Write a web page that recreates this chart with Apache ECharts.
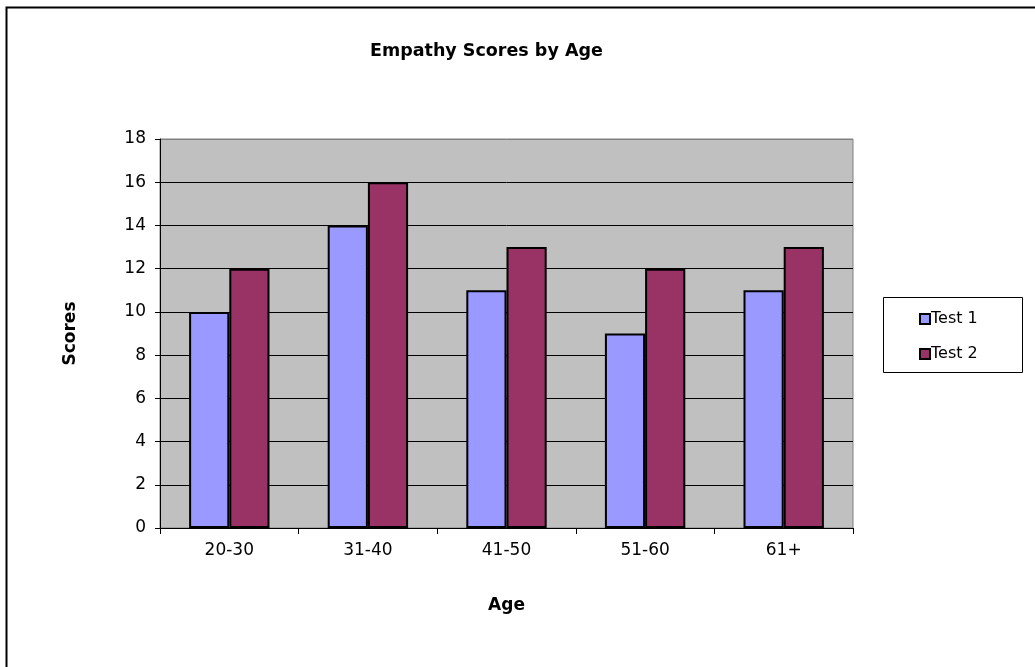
<!DOCTYPE html>
<html>
<head>
<meta charset="utf-8">
<script src="https://cdn.jsdelivr.net/npm/echarts@6/dist/echarts.min.js"></script>
<style>
  html, body { margin: 0; padding: 0; background: #fff; }
  #chart { width: 1035px; height: 667px; }
</style>
</head>
<body>
<div id="chart"></div>
<script>
// Age groups and the two test scores for each group
const ageGroups = ['20-30', '31-40', '41-50', '51-60', '61+'];
const test1Scores = [10, 14, 11, 9, 11];
const test2Scores = [12, 16, 13, 12, 13];
const seriesNames = ['Test 1', 'Test 2'];

const FONT = 'DejaVu Sans, Verdana, sans-serif';

// gridlines are dark, except the top edge of the plot which is grey
const gridLineColors = ['#000', '#000', '#000', '#000', '#000', '#000', '#000', '#000', '#000', '#808080'];

const chart = echarts.init(document.getElementById('chart'), null, { renderer: 'canvas' });

chart.setOption({
  animation: false,
  backgroundColor: '#ffffff',
  title: {
    text: 'Empathy Scores by Age',
    left: 370,
    top: 42,
    padding: 0,
    textStyle: { fontFamily: FONT, fontSize: 17.5, fontWeight: 'bold', color: '#000' }
  },
  graphic: [
    // outer chart frame
    {
      type: 'rect',
      shape: { x: 6.5, y: 7.5, width: 1040, height: 680 },
      style: { fill: 'none', stroke: '#000', lineWidth: 2 },
      silent: true
    },
    // legend box
    {
      type: 'rect',
      shape: { x: 883.5, y: 297.5, width: 139, height: 75 },
      style: { fill: '#fff', stroke: '#000', lineWidth: 1 },
      silent: true,
      z: 0
    }
  ],
  legend: {
    orient: 'vertical',
    left: 919,
    top: 311,
    padding: 0,
    itemWidth: 10,
    itemHeight: 10,
    itemGap: 19,
    icon: 'rect',
    data: seriesNames,
    z: 5,
    textStyle: { fontFamily: FONT, fontSize: 16, color: '#000', padding: [0, 0, 0, -4] }
  },
  grid: {
    left: 160,
    top: 139,
    width: 693,
    height: 389,
    show: true,
    backgroundColor: '#c0c0c0',
    borderColor: '#808080',
    borderWidth: 1
  },
  xAxis: {
    type: 'category',
    data: ageGroups,
    name: 'Age',
    nameLocation: 'middle',
    nameGap: 69,
    nameTextStyle: { fontFamily: FONT, fontSize: 17, fontWeight: 'bold', color: '#000' },
    axisLine: { lineStyle: { color: '#000', width: 1 } },
    axisTick: { show: true, length: 6, alignWithLabel: false, lineStyle: { color: '#000' } },
    axisLabel: { fontFamily: FONT, fontSize: 17, color: '#000', margin: 14 }
  },
  yAxis: {
    type: 'value',
    min: 0,
    max: 18,
    interval: 2,
    name: 'Scores',
    nameLocation: 'middle',
    nameGap: 81,
    nameRotate: 90,
    nameTextStyle: { fontFamily: FONT, fontSize: 17, fontWeight: 'bold', color: '#000' },
    axisLine: { show: true, lineStyle: { color: '#000', width: 1 } },
    axisTick: { show: true, length: 5, lineStyle: { color: '#000' } },
    axisLabel: { fontFamily: FONT, fontSize: 17, color: '#000', margin: 14 },
    splitLine: { show: true, lineStyle: { color: gridLineColors, width: 1 } }
  },
  series: [
    {
      name: seriesNames[0],
      type: 'bar',
      data: test1Scores,
      barGap: '0%',
      barCategoryGap: '42%',
      itemStyle: { color: '#9999ff', borderColor: '#000', borderWidth: 2 }
    },
    {
      name: seriesNames[1],
      type: 'bar',
      data: test2Scores,
      barGap: '0%',
      barCategoryGap: '42%',
      itemStyle: { color: '#993366', borderColor: '#000', borderWidth: 2 }
    }
  ]
});
</script>
</body>
</html>
